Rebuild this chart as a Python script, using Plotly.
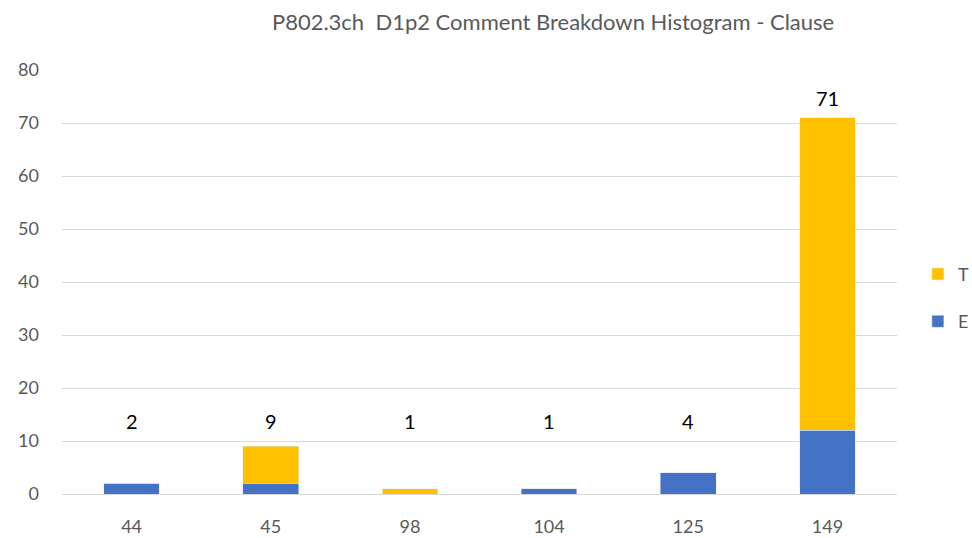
import plotly.graph_objects as go

categories = ["44", "45", "98", "104", "125", "149"]
e_values = [2, 2, 0, 1, 4, 12]
t_values = [0, 7, 1, 0, 0, 59]
totals = [2, 9, 1, 1, 4, 71]
y_ticks = [0, 10, 20, 30, 40, 50, 60, 70, 80]

fig = go.Figure()
fig.add_trace(go.Bar(x=categories, y=e_values, name="E", marker_color="#4472C4",
                     legendrank=2, legendgroup="E"))
fig.add_trace(go.Bar(x=categories, y=t_values, name="T", marker_color="#FFC000",
                     legendrank=1, legendgroup="T"))

for i, tot in enumerate(totals):
    fig.add_annotation(x=i, y=max(tot, 10), text=str(tot), showarrow=False,
                       yshift=20, font=dict(size=20, color="#000000", family="Lato"))

fig.update_layout(
    barmode="stack",
    bargap=0.6,
    width=972, height=538,
    paper_bgcolor="white", plot_bgcolor="white",
    margin=dict(l=62, r=75, t=70, b=44, autoexpand=False),
    title=dict(text="P802.3ch  D1p2 Comment Breakdown Histogram - Clause",
               x=0.569, xanchor="center", y=0.958, yanchor="middle",
               font=dict(size=22, color="#595959", family="Lato")),
    font=dict(family="Lato", color="#595959", size=18),
    legend=dict(x=1.025, xanchor="left", y=0.463, yanchor="middle",
                traceorder="grouped", tracegroupgap=21,
                font=dict(size=18, color="#595959")),
    showlegend=True,
)
fig.update_yaxes(range=[0, 80], tickvals=y_ticks, showgrid=True, gridcolor="#D9D9D9",
                 gridwidth=1, zeroline=True, zerolinecolor="#D9D9D9", zerolinewidth=1,
                 showline=False, ticks="", ticklabelstandoff=22)
fig.update_xaxes(type="category", range=[-0.5, len(categories) - 0.5], showgrid=False,
                 showline=False, ticks="", ticklabelstandoff=20, tickangle=0)

fig.write_html("out.html", config={"displayModeBar": False},
               post_script="document.body.style.margin='0';")
